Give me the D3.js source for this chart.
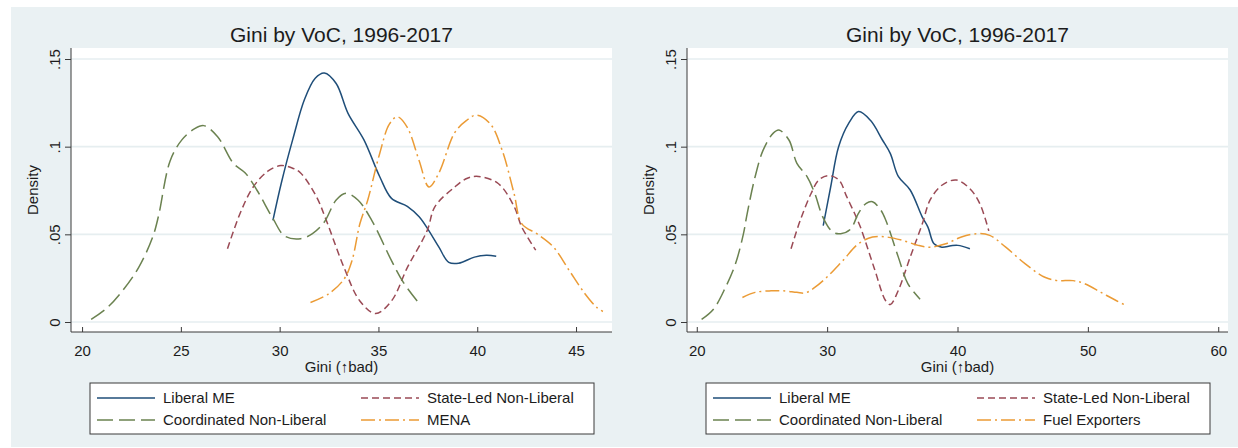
<!DOCTYPE html>
<html>
<head>
<meta charset="utf-8">
<script src="https://cdn.jsdelivr.net/npm/d3@7"></script>
<style>
  html, body { margin: 0; padding: 0; background: #ffffff; }
  svg { display: block; }
  text { font-family: "Liberation Sans", Arial, sans-serif; fill: #1c1c1c; }
</style>
</head>
<body>
<svg id="chart" width="1238" height="448"></svg>
<script>
// Kernel density estimates of Gini by variety of capitalism, 1996-2017.
// Each series is a list of [gini, density] points.

// Left panel
const leftLiberal = [[29.66,0.058],[30.1,0.08],[30.66,0.104],[31.26,0.127],[31.8,0.139],[32.26,0.142],[32.86,0.136],[33.46,0.119],[34.26,0.104],[35.06,0.083],[35.66,0.0705],[36.46,0.066],[37.06,0.06],[37.5,0.053],[38.06,0.0427],[38.56,0.034],[39.06,0.0335],[39.86,0.037],[40.46,0.038],[40.96,0.0375]];
const leftStateLed = [[27.36,0.0418],[28.0,0.062],[28.66,0.077],[29.4,0.086],[30.06,0.0892],[30.6,0.088],[31.06,0.085],[31.86,0.0715],[32.36,0.058],[33.26,0.031],[34.06,0.012],[34.86,0.0048],[35.66,0.012],[36.46,0.031],[37.46,0.052],[37.86,0.0658],[38.86,0.077],[39.5,0.082],[40.06,0.083],[41.06,0.079],[41.86,0.066],[42.26,0.054],[42.96,0.041]];
const leftCoordinated = [[20.46,0.0015],[21.26,0.008],[22.06,0.018],[22.86,0.031],[23.56,0.048],[23.86,0.06],[24.46,0.092],[25.06,0.104],[25.66,0.110],[26.16,0.112],[26.86,0.1057],[27.66,0.0905],[28.26,0.085],[28.86,0.075],[29.66,0.059],[30.26,0.049],[31.06,0.0475],[31.66,0.0504],[32.26,0.057],[32.86,0.0696],[33.36,0.0734],[33.96,0.0696],[34.66,0.058],[35.66,0.035],[36.26,0.0226],[36.96,0.012]];
const leftMena = [[31.56,0.0111],[32.46,0.0159],[33.26,0.0245],[33.66,0.035],[34.06,0.056],[34.46,0.0696],[35.06,0.096],[35.56,0.113],[35.96,0.117],[36.46,0.111],[37.06,0.092],[37.56,0.077],[38.06,0.085],[38.86,0.108],[39.46,0.115],[39.96,0.118],[40.66,0.113],[41.26,0.098],[41.86,0.0734],[42.26,0.056],[43.06,0.050],[43.86,0.0427],[44.66,0.0293],[45.46,0.016],[46.06,0.0082],[46.36,0.006]];

// Right panel
const rightLiberal = [[29.7,0.055],[30.27,0.077],[30.88,0.100],[31.65,0.1133],[32.41,0.120],[33.32,0.115],[34.24,0.1038],[34.85,0.096],[35.46,0.083],[36.37,0.0753],[37.29,0.060],[37.74,0.054],[38.2,0.0446],[38.8,0.0427],[39.5,0.0435],[40.03,0.0437],[40.95,0.0418]];
const rightStateLed = [[27.23,0.0418],[27.84,0.056],[28.14,0.062],[28.75,0.073],[29.36,0.081],[30.1,0.0835],[30.9,0.081],[31.5,0.0715],[32.1,0.062],[32.56,0.054],[33.6,0.031],[34.5,0.012],[34.85,0.010],[35.46,0.018],[36.37,0.037],[37.3,0.056],[37.9,0.0696],[38.8,0.078],[39.9,0.081],[40.95,0.076],[41.7,0.0677],[42.4,0.052]];
const rightCoordinated = [[20.37,0.0015],[21.28,0.0073],[22.2,0.0197],[22.96,0.033],[23.57,0.050],[23.87,0.062],[24.48,0.083],[25.09,0.098],[25.85,0.1076],[26.3,0.1095],[27.07,0.1038],[27.68,0.0905],[28.45,0.083],[29.05,0.0734],[29.66,0.060],[30.43,0.0513],[31.04,0.0504],[31.8,0.053],[32.4,0.062],[33.0,0.0677],[33.48,0.0686],[34.1,0.064],[34.5,0.058],[35.46,0.037],[36.2,0.0217],[37.13,0.013]];
const rightFuel = [[23.5,0.014],[24.48,0.0169],[25.7,0.0178],[26.6,0.0178],[27.68,0.0169],[28.3,0.0165],[29.05,0.0197],[29.97,0.0255],[31.2,0.035],[32.4,0.0446],[33.48,0.0485],[34.54,0.0485],[35.76,0.0466],[36.98,0.0437],[37.9,0.0427],[39.1,0.0446],[40.3,0.0485],[41.55,0.0504],[42.47,0.0494],[43.7,0.0427],[45.2,0.0331],[46.7,0.0255],[47.65,0.0236],[48.87,0.0236],[49.8,0.0217],[51.0,0.0169],[52.2,0.0121],[52.99,0.0092]];

// Axis ticks and labels
const yTicks = [0, 0.05, 0.1, 0.15];
const yTickLabels = ["0", ".05", ".1", ".15"];
const leftXTicks = [20, 25, 30, 35, 40, 45];
const rightXTicks = [20, 30, 40, 50, 60];
const titleText = "Gini by VoC, 1996-2017";
const xTitle = "Gini (\u2191bad)";
const yTitle = "Density";
const leftNames = ["Liberal ME", "State-Led Non-Liberal", "Coordinated Non-Liberal", "MENA"];
const rightNames = ["Liberal ME", "State-Led Non-Liberal", "Coordinated Non-Liberal", "Fuel Exporters"];

// Line styles (Stata s2color-like)
const styles = [
  { color: "#1f4e79", dash: null },
  { color: "#9a4a55", dash: "7,4" },
  { color: "#6b8250", dash: "16,6" },
  { color: "#eb9b35", dash: "14,4,2,4" }
];

const svg = d3.select("#chart");

// graph region background
svg.append("rect")
  .attr("x", 11).attr("y", 7).attr("width", 1227).attr("height", 440)
  .attr("fill", "#eaf1f3");

const yScale = d3.scaleLinear().domain([0, 0.15]).range([322, 59]);

function drawPanel(cfg) {
  const g = svg.append("g");
  const x = d3.scaleLinear().domain(cfg.domain).range([cfg.x0, cfg.x1]);
  const top = 48, bottom = 332;

  // plot region
  g.append("rect")
    .attr("x", cfg.x0).attr("y", top)
    .attr("width", cfg.x1 - cfg.x0).attr("height", bottom - top)
    .attr("fill", "#ffffff");

  // horizontal grid lines
  g.selectAll("line.grid").data(yTicks).enter().append("line")
    .attr("class", "grid")
    .attr("x1", cfg.x0).attr("x2", cfg.x1)
    .attr("y1", d => yScale(d)).attr("y2", d => yScale(d))
    .attr("stroke", "#e6eef0").attr("stroke-width", 1.6);

  // density curves
  const line = d3.line()
    .x(d => x(d[0])).y(d => yScale(d[1]))
    .curve(d3.curveCatmullRom.alpha(0.5));
  cfg.series.forEach((s, i) => {
    g.append("path")
      .datum(s)
      .attr("d", line)
      .attr("fill", "none")
      .attr("stroke", styles[i].color)
      .attr("stroke-width", 1.5)
      .attr("stroke-dasharray", styles[i].dash)
      .attr("stroke-linejoin", "round");
  });

  // y axis
  const yAxis = d3.axisLeft(yScale)
    .tickValues(yTicks)
    .tickFormat((d, i) => yTickLabels[i])
    .tickSize(6).tickSizeOuter(0).tickPadding(4);
  const ya = g.append("g").attr("transform", `translate(${cfg.x0},0)`).call(yAxis);
  ya.select(".domain").attr("d", `M0,${top}V${bottom}`).attr("stroke", "#3a3a3a");
  ya.selectAll(".tick line").attr("stroke", "#3a3a3a");
  ya.selectAll(".tick text")
    .attr("font-size", 15)
    .attr("fill", "#1c1c1c")
    .attr("text-anchor", "middle")
    .attr("x", null).attr("dy", null)
    .attr("transform", "translate(-11,0) rotate(-90)");

  // x axis
  const xAxis = d3.axisBottom(x)
    .tickValues(cfg.xTicks)
    .tickFormat(d3.format("d"))
    .tickSize(5).tickSizeOuter(0).tickPadding(4);
  const xa = g.append("g").attr("transform", `translate(0,${bottom})`).call(xAxis);
  xa.select(".domain").attr("d", `M${cfg.x0},0H${cfg.x1}`).attr("stroke", "#3a3a3a");
  xa.selectAll(".tick line").attr("stroke", "#3a3a3a").attr("y1", -5).attr("y2", 0);
  xa.selectAll(".tick text").attr("font-size", 15).attr("fill", "#1c1c1c").attr("y", 13);

  const cx = (cfg.x0 + cfg.x1) / 2;

  // titles
  g.append("text").attr("x", cx).attr("y", 42)
    .attr("text-anchor", "middle").attr("font-size", 21).attr("fill", "#1a1a2a")
    .text(titleText);
  g.append("text").attr("x", cx).attr("y", 372)
    .attr("text-anchor", "middle").attr("font-size", 15)
    .text(xTitle);
  g.append("text")
    .attr("transform", `translate(${cfg.x0 - 33},${(top + bottom) / 2}) rotate(-90)`)
    .attr("text-anchor", "middle").attr("font-size", 15)
    .text(yTitle);

  // legend
  const lx = cfg.x0 + 19, ly = 383, lw = 504, lh = 51;
  const lg = g.append("g");
  lg.append("rect").attr("x", lx).attr("y", ly).attr("width", lw).attr("height", lh)
    .attr("fill", "#ffffff").attr("stroke", "#3a3a3a").attr("stroke-width", 1);
  const cols = [lx + 7, lx + 271];
  const rows = [ly + 15, ly + 37];
  const order = [0, 1, 2, 3];
  order.forEach((k, i) => {
    const col = cols[i % 2], row = rows[Math.floor(i / 2)];
    lg.append("line")
      .attr("x1", col).attr("x2", col + 58)
      .attr("y1", row).attr("y2", row)
      .attr("stroke", styles[k].color).attr("stroke-width", 1.5)
      .attr("stroke-dasharray", styles[k].dash);
    lg.append("text")
      .attr("x", col + 66).attr("y", row + 5)
      .attr("font-size", 15)
      .text(cfg.names[k]);
  });
}

drawPanel({
  x0: 71, x1: 612, domain: [19.44, 46.82], xTicks: leftXTicks,
  series: [leftLiberal, leftStateLed, leftCoordinated, leftMena], names: leftNames
});
drawPanel({
  x0: 687, x1: 1228, domain: [19.25, 60.75], xTicks: rightXTicks,
  series: [rightLiberal, rightStateLed, rightCoordinated, rightFuel], names: rightNames
});
</script>
</body>
</html>
